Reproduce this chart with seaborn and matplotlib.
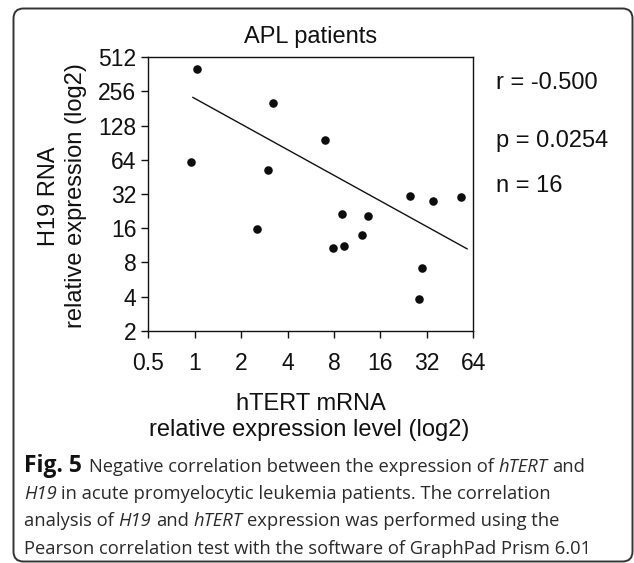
import matplotlib
matplotlib.use("Agg")
import matplotlib.pyplot as plt
import seaborn as sns
import pandas as pd
from matplotlib.patches import FancyBboxPatch
from matplotlib.transforms import IdentityTransform

# hTERT (x) vs H19 (y) relative expression, one point per patient
htert = [1.03, 3.20, 6.96, 0.94, 3.00, 24.9, 34.9, 53.0, 2.55, 9.01, 13.3, 12.15, 7.92, 9.24, 29.6, 28.6]
h19 = [401, 201, 96, 61, 52.4, 30.7, 27.8, 29.9, 15.8, 21.3, 20.6, 13.9, 10.7, 11.2, 7.18, 3.78]

# trend line as drawn in the figure
fit_x = [0.97, 58.5]
fit_y = [227.5, 10.5]

x_ticks = [0.5, 1, 2, 4, 8, 16, 32, 64]
x_tick_labels = ["0.5", "1", "2", "4", "8", "16", "32", "64"]
y_ticks = [2, 4, 8, 16, 32, 64, 128, 256, 512]
y_tick_labels = ["2", "4", "8", "16", "32", "64", "128", "256", "512"]

stats_lines = ["r = -0.500", "p = 0.0254", "n = 16"]

# caption runs: (text, style) -- b = bold, i = italic, n = normal
caption = [
    [("Fig. 5", "b"), ("Negative correlation between the expression of", "n"), ("hTERT", "i"), ("and", "n")],
    [("H19", "i"), ("in acute promyelocytic leukemia patients. The correlation", "n")],
    [("analysis of", "n"), ("H19", "i"), ("and", "n"), ("hTERT", "i"), ("expression was performed using the", "n")],
    [("Pearson correlation test with the software of GraphPad Prism 6.01", "n")],
]

sns.set_style("ticks")
plt.rcParams["font.family"] = ["Liberation Sans", "DejaVu Sans"]

W, H = 634, 563
fig = plt.figure(figsize=(W / 100, H / 100), dpi=100)
ax = fig.add_axes([148.3 / W, 1 - 330.7 / H, 325 / W, 273.4 / H])

df = pd.DataFrame({"hTERT": htert, "H19": h19})
fit = pd.DataFrame({"hTERT": fit_x, "H19": fit_y})

sns.lineplot(data=fit, x="hTERT", y="H19", ax=ax, color="#111111", linewidth=1.0)
sns.scatterplot(data=df, x="hTERT", y="H19", ax=ax, color="#0d0d0d", s=38, linewidth=0, zorder=3)

ax.set_xscale("log", base=2)
ax.set_yscale("log", base=2)
ax.set_xlim(0.5, 64)
ax.set_ylim(2, 512)
ax.set_xticks(x_ticks)
ax.set_xticklabels(x_tick_labels)
ax.set_yticks(y_ticks)
ax.set_yticklabels(y_tick_labels)
ax.minorticks_off()
ax.tick_params(axis="both", labelsize=16.5, length=5, width=1, color="#111111", labelcolor="#111111")
ax.tick_params(axis="x", pad=10)
ax.tick_params(axis="y", pad=3.5)
for sp in ax.spines.values():
    sp.set_linewidth(1.0)
    sp.set_color("#111111")
    sp.set_visible(True)
ax.set_xlabel("")
ax.set_ylabel("")

ax.set_title("APL patients", fontsize=17, pad=10, color="#111111")

# axis titles, two lines each
fig.text(310.5 / W, 1 - 410 / H, "hTERT mRNA", fontsize=17, ha="center", va="baseline", color="#111111")
fig.text(309 / W, 1 - 436 / H, "relative expression level (log2)", fontsize=17, ha="center", va="baseline", color="#111111")
fig.text(55 / W, 1 - 196 / H, "H19 RNA", fontsize=17, rotation=90, rotation_mode="anchor",
         ha="center", va="baseline", color="#111111")
fig.text(82 / W, 1 - 196 / H, "relative expression (log2)", fontsize=17, rotation=90, rotation_mode="anchor",
         ha="center", va="baseline", color="#111111")

# correlation stats
for txt, yb in zip(stats_lines, [89.3, 147.3, 191.7]):
    fig.text(496 / W, 1 - yb / H, txt, fontsize=17, ha="left", va="baseline", color="#111111")

# caption, drawn run by run so bold / italic words sit inline
renderer = fig.canvas.get_renderer()
cap_size = 13.2
styles = {"n": ("normal", "normal", "#2a2a2a", cap_size),
          "i": ("normal", "italic", "#2a2a2a", cap_size),
          "b": ("bold", "normal", "#111111", 16.5)}


def text_width(s, size):
    t = fig.text(0, 0, s, fontsize=size, family="Open Sans")
    w = t.get_window_extent(renderer).width
    t.remove()
    return w


space_w = text_width("x x", cap_size) - text_width("xx", cap_size)

for runs, yb in zip(caption, [472, 499, 526, 554]):
    x = 24.0
    for txt, st in runs:
        weight, style, col, size = styles[st]
        t = fig.text(x / W, 1 - yb / H, txt, fontsize=size, family="Open Sans", weight=weight,
                     style=style, ha="left", va="baseline", color=col)
        x += t.get_window_extent(renderer).width + space_w * (1.5 if st == "b" else 1.0)

# rounded frame around the panel
frame = FancyBboxPatch((13.5, 1.5), 619, 553, boxstyle="round,pad=0,rounding_size=10",
                       transform=IdentityTransform(), fill=False, edgecolor="#333333", linewidth=1.4)
fig.add_artist(frame)

fig.savefig("out.png", dpi=100)
